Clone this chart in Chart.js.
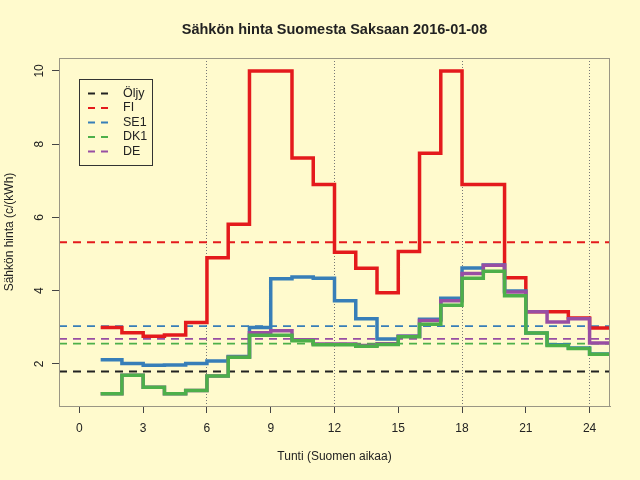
<!DOCTYPE html>
<html>
<head>
<meta charset="utf-8">
<title>Sähkön hinta Suomesta Saksaan 2016-01-08</title>
<script src="https://cdn.jsdelivr.net/npm/chart.js@4/dist/chart.umd.min.js"></script>
<style>
  html, body { margin: 0; padding: 0; background: #FFFACD; }
  #wrap { width: 640px; height: 480px; position: relative; }
</style>
</head>
<body>
<div id="wrap"><canvas id="chart"></canvas></div>
<script>
// hourly prices c/kWh, hour 1..24 (Finnish time)
const hours = [1, 2, 3, 4, 5, 6, 7, 8, 9, 10, 11, 12, 13, 14, 15, 16, 17, 18, 19, 20, 21, 22, 23, 24];
const fi  = [2.99, 2.85, 2.75, 2.79, 3.13, 4.90, 5.81, 10.00, 10.00, 7.62, 6.90, 5.05, 4.61, 3.94, 5.07, 7.75, 10.00, 6.90, 6.90, 4.35, 3.42, 3.42, 3.25, 2.98];
const se1 = [2.11, 2.01, 1.96, 1.97, 2.01, 2.08, 2.20, 2.99, 4.32, 4.37, 4.34, 3.72, 3.23, 2.68, 2.75, 3.22, 3.79, 4.62, 4.70, 3.99, 2.84, 2.52, 2.43, 2.27];
const dk1 = [1.18, 1.69, 1.36, 1.18, 1.27, 1.67, 2.18, 2.78, 2.78, 2.63, 2.52, 2.52, 2.48, 2.53, 2.74, 3.08, 3.60, 4.34, 4.53, 3.86, 2.84, 2.50, 2.42, 2.26];
const de  = [1.18, 1.69, 1.36, 1.18, 1.27, 1.67, 2.18, 2.85, 2.90, 2.66, 2.54, 2.54, 2.50, 2.55, 2.75, 3.18, 3.72, 4.47, 4.69, 3.96, 3.42, 3.14, 3.23, 2.57];

// daily averages (dashed lines) + oil reference
const avgNames  = ["Öljy", "FI", "SE1", "DK1", "DE"];
const avgValues = [1.79, 5.32, 3.03, 2.55, 2.68];
const avgColors = ["#222222", "#E41A1C", "#377EB8", "#4DAF4A", "#984EA3"];

const xTicks = [0, 3, 6, 9, 12, 15, 18, 21, 24];
const yTicks = [2, 4, 6, 8, 10];
const xMin = -0.96, xMax = 24.96;
const yMin = 0.848, yMax = 10.352;

const textCol = "#222222";
const fontFam = "'Liberation Sans', Arial, sans-serif";

function stepPoints(arr) {
    let pts = hours.map((h, i) => ({ x: h, y: arr[i] }));
    // last hour holds until the end of the hour
    pts.push({ x: hours[hours.length - 1] + 1, y: arr[arr.length - 1] });
    return pts;
}

let datasets = [];
// step lines, first one is on top
[["DK1", dk1, "#4DAF4A"], ["DE", de, "#984EA3"], ["SE1", se1, "#377EB8"], ["FI", fi, "#E41A1C"]].forEach((s, i) => {
    datasets.push({
        label: s[0],
        data: stepPoints(s[1]),
        borderColor: s[2],
        borderWidth: 3.5,
        stepped: true,
        pointRadius: 0,
        fill: false,
        order: i + 1
    });
});
avgNames.forEach((name, i) => {
    datasets.push({
        label: name + " ka",
        data: [{ x: xMin, y: avgValues[i] }, { x: xMax, y: avgValues[i] }],
        borderColor: avgColors[i],
        borderWidth: 1.8,
        borderDash: [8, 6],
        pointRadius: 0,
        fill: false,
        order: 10 + i
    });
});

const bgPlugin = {
    id: "bg",
    beforeDraw(chart) {
        const c = chart.ctx;
        c.save();
        c.fillStyle = "#FFFACD";
        c.fillRect(0, 0, chart.width, chart.height);
        c.restore();
    }
};

const extrasPlugin = {
    id: "extras",
    afterDraw(chart) {
        const c = chart.ctx;
        const a = chart.chartArea;
        const ys = chart.scales.y;
        c.save();
        // box round the plot
        c.strokeStyle = "#9a9684";
        c.lineWidth = 1;
        c.strokeRect(a.left + 0.5, a.top + 0.5, a.right - a.left - 1, a.bottom - a.top);

        // main title
        c.fillStyle = textCol;
        c.font = "bold 14.5px " + fontFam;
        c.textAlign = "center";
        c.textBaseline = "middle";
        c.fillText("Sähkön hinta Suomesta Saksaan 2016-01-08", (a.left + a.right) / 2, 30);

        // y tick labels, rotated like in R
        c.font = "12px " + fontFam;
        yTicks.forEach(v => {
            c.save();
            c.translate(a.left - 19, ys.getPixelForValue(v));
            c.rotate(-Math.PI / 2);
            c.fillText(String(v), 0, 0);
            c.restore();
        });

        // legend
        const lx = a.left + 20, ly = a.top + 21, lw = 73, lh = 86;
        c.strokeStyle = "#333333";
        c.lineWidth = 1;
        c.strokeRect(lx + 0.5, ly + 0.5, lw, lh);
        c.textAlign = "left";
        c.font = "12.5px " + fontFam;
        avgNames.forEach((name, i) => {
            const yy = ly + 14.5 + i * 14.5;
            c.strokeStyle = avgColors[i];
            c.lineWidth = 1.8;
            c.setLineDash([7, 6]);
            c.beginPath();
            c.moveTo(lx + 9, yy);
            c.lineTo(lx + 30, yy);
            c.stroke();
            c.setLineDash([]);
            c.fillStyle = textCol;
            c.fillText(name, lx + 44, yy);
        });
        c.restore();
    }
};

new Chart(document.getElementById("chart"), {
    type: "line",
    data: { datasets: datasets },
    options: {
        responsive: true,
        maintainAspectRatio: false,
        animation: false,
        events: [],
        layout: { padding: { left: 2, right: 30, top: 58, bottom: 16 } },
        plugins: { legend: { display: false }, tooltip: { enabled: false }, title: { display: false } },
        scales: {
            x: {
                type: "linear",
                min: xMin,
                max: xMax,
                afterBuildTicks: s => { s.ticks = xTicks.map(v => ({ value: v })); },
                afterFit: s => { s.height = 58; },
                ticks: { color: textCol, font: { family: fontFam, size: 12 }, padding: 8, maxRotation: 0, autoSkip: false },
                grid: {
                    drawOnChartArea: true,
                    color: ctx => (ctx.tick && [6, 12, 18, 24].includes(ctx.tick.value)) ? "#777777" : "rgba(0,0,0,0)",
                    lineWidth: 1,
                    tickLength: 7,
                    tickColor: "#444444",
                    tickBorderDash: []
                },
                border: { display: true, color: "#9a9684", dash: [1, 2] },
                title: { display: true, text: "Tunti (Suomen aikaa)", color: textCol, font: { family: fontFam, size: 12 }, padding: 0 }
            },
            y: {
                type: "linear",
                min: yMin,
                max: yMax,
                afterBuildTicks: s => { s.ticks = yTicks.map(v => ({ value: v })); },
                afterFit: s => { s.width = 57; },
                ticks: { color: "rgba(0,0,0,0)", font: { family: fontFam, size: 12 } },
                grid: { drawOnChartArea: false, tickLength: 7, tickColor: "#444444" },
                border: { display: true, color: "#9a9684" },
                title: { display: true, text: "Sähkön hinta (c/(kWh)", color: textCol, font: { family: fontFam, size: 12 }, padding: 0 }
            }
        }
    },
    plugins: [bgPlugin, extrasPlugin]
});
</script>
</body>
</html>
